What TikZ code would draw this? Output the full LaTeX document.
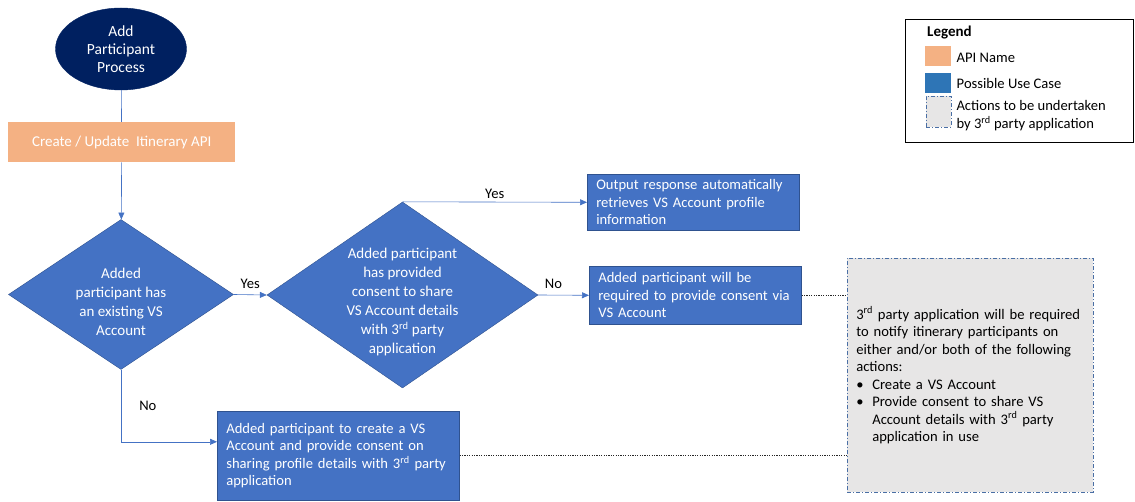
\documentclass[tikz,border=0pt]{standalone}
\usepackage{fontspec}
\setmainfont{Carlito}
\usepackage{xcolor}
\usetikzlibrary{arrows.meta,positioning,shapes.geometric}
\definecolor{navyblue}{HTML}{002060}
\definecolor{apiorange}{HTML}{F4B183}
\definecolor{caseblue}{HTML}{4472C4}
\definecolor{caseedge}{HTML}{2F528F}
\definecolor{legendblue}{HTML}{2E75B6}
\definecolor{thirdgray}{HTML}{E7E6E6}
\definecolor{dashblue}{HTML}{4A6FA5}

\begin{document}
\begin{tikzpicture}[x=1pt, y=-1pt,
  every node/.style={font=\fontsize{14.6}{17.5}\selectfont},
  startnode/.style={ellipse, draw=navyblue, fill=navyblue, text=white, minimum width=131pt, minimum height=82pt, inner sep=0pt, align=center, font=\fontsize{15.5}{18}\selectfont},
  apibox/.style={fill=apiorange, text=white, minimum width=227pt, minimum height=40pt, inner sep=0pt, anchor=north west, font=\fontsize{15}{18}\selectfont},
  decision/.style={diamond, draw=caseedge, line width=0.4pt, fill=caseblue, inner sep=0pt},
  dtext/.style={text=white, align=center, inner sep=0pt, font=\fontsize{15}{19}\selectfont},
  usecase/.style={draw=caseedge, line width=0.6pt, fill=caseblue, text=white, align=left, inner xsep=9pt, inner ysep=0pt, anchor=north west},
  thirdparty/.style={draw=dashblue, line width=0.6pt, dash pattern=on 4pt off 2pt on 1pt off 2pt, fill=thirdgray, text width=228pt, minimum width=246pt, minimum height=234pt, inner xsep=8pt, align=left, anchor=north west},
  swatch/.style={minimum width=26pt, minimum height=20pt, inner sep=0pt},
  arr/.style={-{Triangle[length=7pt,width=6pt]}, draw=caseblue, line width=0.6pt},
  plain/.style={draw=caseblue, line width=0.6pt},
  dotline/.style={draw=black!85, line width=0.7pt, dash pattern=on 1.2pt off 1.2pt},
  lbl/.style={text=black, inner sep=2pt}
]
\useasboundingbox (0,0) rectangle (1135,502);

\node[startnode] (start) at (121,49) {Add\\Participant\\Process};
\node[apibox] (api) at (8,122) {Create / Update\ \ Itinerary API};
\node[decision, minimum width=225pt, minimum height=150pt] (hasacc) at (121,294.5) {};
\node[dtext] (hasacctext) at ([yshift=-7pt]hasacc.center) {Added\\participant has\\an existing VS\\Account};
\node[decision, minimum width=271pt, minimum height=186pt] (consent) at (402.5,295) {};
\node[dtext] (consenttext) at ([yshift=-7pt]consent.center) {Added participant\\has provided\\consent to share\\VS Account details\\with 3\textsuperscript{rd} party\\application};
\node[usecase, text width=194pt, minimum height=56pt] (output) at (587,174) {Output response automatically\\retrieves VS Account profile\\information};
\node[usecase, text width=194pt, minimum height=58pt] (required) at (589,266) {Added participant will be\\required to provide consent via\\VS Account};
\node[usecase, text width=224pt, minimum height=89pt] (create) at (217,411) {Added participant to create a VS\\Account and provide consent on\\sharing profile details with 3\textsuperscript{rd} party\\application};
\node[thirdparty] (notify) at (847,258) {3\textsuperscript{rd} party application will be required\\to notify itinerary participants on\\either and/or both of the following\\actions:\\\makebox[16pt][l]{\textbullet}Create a VS Account\\\makebox[16pt][l]{\textbullet}Provide consent to share VS\\\hspace*{16pt}Account details with 3\textsuperscript{rd} party\\\hspace*{16pt}application in use};

\draw[plain] (start) -- (api);
\draw[arr] (api) -- (hasacc);
\draw[arr] (hasacc.east) -- node[lbl, above=4pt] {Yes} (consent.west);
\draw[arr] (consent.north) -- node[lbl, above=1pt] {Yes} (output.west);
\draw[arr] (consent.east) -- node[lbl, pos=0.3, above=4pt] {No} (required.west);
\draw[arr] (hasacc.south) |- node[lbl, pos=0.25, right=16pt] {No} ([yshift=14pt]create.west);
\draw[dotline] (required.east) -- (required.east -| notify.west);
\draw[dotline] (create.east) -- (create.east -| notify.west);

\node[draw=black, line width=0.8pt, minimum width=228pt, minimum height=123pt, inner sep=0pt, anchor=north west] (legend) at (905,19) {};
\node[anchor=west, inner sep=0pt, font=\bfseries\fontsize{15}{17}\selectfont] (legendtitle) at (927,33) {Legend};
\node[swatch, fill=apiorange] (keyapi) at (938,56) {};
\node[swatch, fill=legendblue] (keycase) at (938,83) {};
\node[swatch, fill=thirdgray, draw=dashblue, line width=0.6pt, dash pattern=on 4pt off 2pt on 1pt off 2pt, minimum width=25pt, minimum height=31pt] (keythird) at (938.5,111.5) {};
\node[right=2pt of keyapi, yshift=-2pt] (keyapitext) {API Name};
\node[right=2pt of keycase] (keycasetext) {Possible Use Case};
\node[anchor=west, align=left, font=\fontsize{14.6}{18}\selectfont] (keythirdtext) at (953,116) {Actions to be undertaken\\by 3\textsuperscript{rd} party application};
\end{tikzpicture}
\end{document}
